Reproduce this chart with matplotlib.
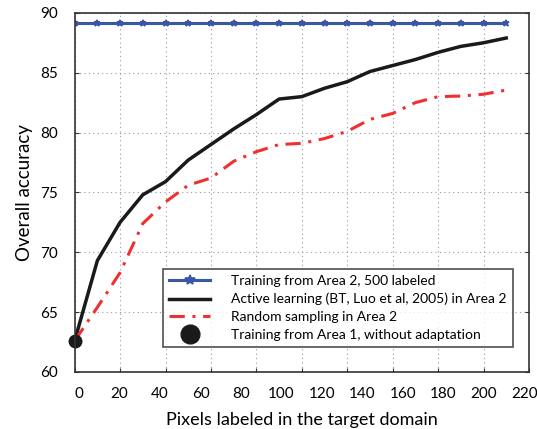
import matplotlib
matplotlib.use("Agg")
import matplotlib.pyplot as plt
import numpy as np

plt.rcParams['font.family'] = ['Lato', 'DejaVu Sans']

# pixels labelled (main grid scale) and accuracies
pixels = np.arange(0, 200, 10)
area2_full = [89.15] * 20
active = [62.6, 69.3, 72.5, 74.8, 75.9, 77.7, 79.0, 80.3, 81.5, 82.8,
          83.0, 83.7, 84.25, 85.1, 85.6, 86.1, 86.7, 87.2, 87.5, 87.9]
random_samp = [62.6, 65.4, 68.3, 72.4, 74.2, 75.6, 76.2, 77.6, 78.4, 79.0,
               79.1, 79.5, 80.1, 81.1, 81.6, 82.5, 83.0, 83.05, 83.2, 83.55]
no_adapt_x = [0]
no_adapt_y = [62.6]

xtick_labels = [0, 20, 40, 60, 80, 100, 120, 140, 160, 180, 200, 220]
yticks = [60, 65, 70, 75, 80, 85, 90]

fig = plt.figure(figsize=(5.37, 4.29), dpi=100)
ax = fig.add_axes([0.139, 0.133, 0.846, 0.837])

ax.plot(pixels, area2_full, color='#3a56a8', lw=2.2, marker='*', ms=5,
        mew=1.2, label='Training from Area 2, 500 labeled')
ax.plot(pixels, active, color='#1a1a1a', lw=2.5,
        label='Active learning (BT, Luo et al, 2005) in Area 2')
ax.plot(pixels, random_samp, color='#f03030', lw=2.2, ls=(0, (5, 2.5, 1, 2.5)),
        label='Random sampling in Area 2')
ax.plot(no_adapt_x, no_adapt_y, 'o', color='#1a1a1a', ms=9, clip_on=False,
        label='Training from Area 1, without adaptation')

ax.set_xlim(0, 200)
ax.set_ylim(60, 90)
ax.set_xticks(np.arange(0, 201, 20))
ax.set_xticklabels([])
ax.set_yticks(yticks)
ax.tick_params(direction='in', length=3, top=True, right=True, labelsize=11,
               color='#333333', pad=12)
ax.grid(True, ls=(0, (1, 3)), color='#999999', lw=0.8)
for s in ax.spines.values():
    s.set_color('#333333')
    s.set_linewidth(1.2)

# tick labels sit on their own scale in the original figure
ax2 = ax.twiny()
ax2.xaxis.set_ticks_position('bottom')
ax2.xaxis.set_label_position('bottom')
ax2.set_xlim(-2.2, 222.2)
ax2.set_xticks(xtick_labels)
ax2.tick_params(length=0, labelsize=11, pad=11)
for s in ax2.spines.values():
    s.set_visible(False)
ax2.set_xlabel('Pixels labeled in the target domain', fontsize=13, labelpad=8)

ax.set_ylabel('Overall accuracy', fontsize=13.5, labelpad=5)

leg = ax.legend(loc='lower right', bbox_to_anchor=(0.965, 0.07), fontsize=10,
                frameon=True, fancybox=False, edgecolor='#222222',
                handlelength=2.95, borderpad=0.45, labelspacing=0.4,
                handletextpad=1.5, numpoints=1, markerscale=1.5,
                borderaxespad=0)
leg.get_frame().set_linewidth(1.2)

fig.savefig('out.png', dpi=100)
